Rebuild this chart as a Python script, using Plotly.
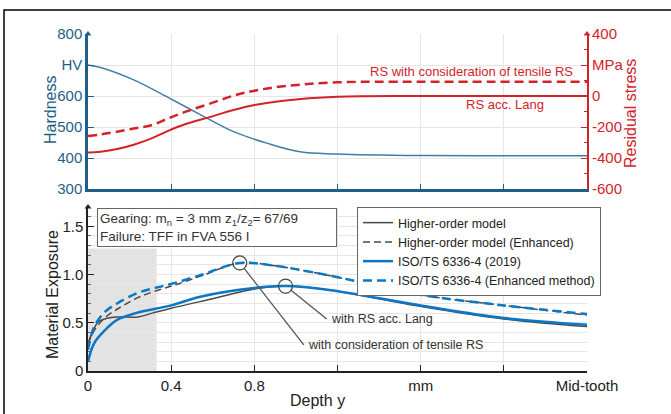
import plotly.graph_objects as go
import math

# ---------------- data ----------------
# top panel
hard_x = [0, 0.06, 0.22, 0.38, 0.54, 0.70, 0.86, 1.02, 1.2, 1.6, 2.0, 2.4]
hard_v = [700, 692, 652, 597, 540, 485, 448, 420, 413, 408, 407, 407]

rs_x = [0, 0.06, 0.14, 0.22, 0.30, 0.38, 0.47, 0.58, 0.70, 0.80, 0.94, 1.2, 1.6, 2.4]
rs_lang = [-365, -359, -342, -314, -277, -228, -181, -138, -90, -58, -30, -5, 0, 0]
rs_tensile = [-258, -248, -230, -210, -190, -148, -101, -52, 2, 34, 63, 88, 92, 92]

# bottom panel
iso_x = [0, 0.03, 0.08, 0.14, 0.23, 0.40, 0.54, 0.80, 0.95, 1.16, 1.6, 2.0, 2.4]
iso_y = [0.10, 0.29, 0.42, 0.53, 0.60, 0.68, 0.77, 0.86, 0.88, 0.84, 0.68, 0.55, 0.48]

ho_x = [0, 0.02, 0.05, 0.08, 0.14, 0.24, 0.31, 0.40, 0.60, 0.80, 0.95, 1.16, 1.6, 2.0, 2.4]
ho_y = [0.28, 0.40, 0.51, 0.54, 0.56, 0.56, 0.60, 0.65, 0.75, 0.85, 0.88, 0.84, 0.67, 0.54, 0.46]

enh_x = [0, 0.03, 0.08, 0.14, 0.24, 0.34, 0.43, 0.55, 0.73, 0.9, 1.16, 1.6, 2.0, 2.4]
iso_enh_y = [0.22, 0.46, 0.61, 0.70, 0.81, 0.87, 0.92, 1.0, 1.12, 1.09, 0.99, 0.79, 0.68, 0.59]
ho_enh_y = [0.28, 0.42, 0.55, 0.64, 0.76, 0.84, 0.90, 0.99, 1.12, 1.09, 0.99, 0.79, 0.68, 0.58]

# callouts: circle position and text position
callout_labels = ["with consideration of tensile RS", "with RS acc. Lang"]
callout_cx = [0.73, 0.95]
callout_cy = [1.12, 0.88]
callout_tx = [1.05, 1.16]
callout_ty = [0.27, 0.54]

shade_x = [0, 0.33]
shade_y = [0, 1.27]

x_range = [0, 2.4]
hv_range = [300, 800]
rs_range = [-600, 400]
me_range = [0, 1.7]

x_ticks = [0, 0.4, 0.8, 1.6, 2.4]
x_ticktext = ["0", "0.4", "0.8", "mm", "Mid-tooth"]
x_minor = [1.2, 2.0]
hv_ticks = [300, 400, 500, 600, 700, 800]
hv_ticktext = ["300", "400", "500", "600", "HV", "800"]
rs_ticks = [-600, -400, -200, 0, 200, 400]
rs_ticktext = ["-600", "-400", "-200", "0", "MPa", "400"]
rs_minor = [-500, -300, -100, 100, 300]
me_ticks = [0, 0.5, 1.0, 1.5]
me_ticktext = ["0", "0.5", "1.0", "1.5"]

# ---------------- style ----------------
W, H = 671, 414
FONT = "Liberation Sans, Arial, sans-serif"
TEAL = "#1f5f86"
HARD = "#3f7ea6"
RED = "#d2232a"
BLUE = "#0b77c5"
BLACK = "#4a4a4a"
GRID = "#e6e6e6"

L, R = 88, 587
xd = [L / W, R / W]
top_dom = [1 - 189 / H, 1 - 34 / H]
bot_dom = [1 - 371 / H, 1 - 207 / H]

fig = go.Figure()

# top panel traces
fig.add_trace(go.Scatter(x=hard_x, y=hard_v, mode="lines", line=dict(color=HARD, width=1.5, shape="spline"),
                         xaxis="x", yaxis="y", showlegend=False))
fig.add_trace(go.Scatter(x=rs_x, y=rs_tensile, mode="lines", line=dict(color=RED, width=2.5, dash="9px,5px", shape="spline"),
                         xaxis="x", yaxis="y2", showlegend=False))
fig.add_trace(go.Scatter(x=rs_x, y=rs_lang, mode="lines", line=dict(color=RED, width=2, shape="spline"),
                         xaxis="x", yaxis="y2", showlegend=False))

# bottom panel traces
fig.add_trace(go.Scatter(x=ho_x, y=ho_y, mode="lines", name="Higher-order model",
                         line=dict(color=BLACK, width=1.5, shape="spline"), xaxis="x2", yaxis="y3"))
fig.add_trace(go.Scatter(x=enh_x, y=ho_enh_y, mode="lines", name="Higher-order model (Enhanced)",
                         line=dict(color=BLACK, width=1.5, dash="7px,4px", shape="spline"), xaxis="x2", yaxis="y3"))
fig.add_trace(go.Scatter(x=iso_x, y=iso_y, mode="lines", name="ISO/TS 6336-4 (2019)",
                         line=dict(color=BLUE, width=2.5, shape="spline"), xaxis="x2", yaxis="y3"))
fig.add_trace(go.Scatter(x=enh_x, y=iso_enh_y, mode="lines", name="ISO/TS 6336-4 (Enhanced method)",
                         line=dict(color=BLUE, width=2.5, dash="9px,5px", shape="spline"), xaxis="x2", yaxis="y3"))

# callout circles
fig.add_trace(go.Scatter(x=callout_cx, y=callout_cy, mode="markers",
                         marker=dict(symbol="circle-open", size=14, color="#444444", line=dict(width=1.2)),
                         xaxis="x2", yaxis="y3", showlegend=False, hoverinfo="skip"))

# axis end arrowheads
fig.add_trace(go.Scatter(x=[x_range[0]], y=[hv_range[1]], mode="markers", cliponaxis=False,
                         marker=dict(symbol="triangle-up", size=6, color=TEAL), xaxis="x", yaxis="y",
                         showlegend=False, hoverinfo="skip"))
fig.add_trace(go.Scatter(x=[x_range[1]], y=[rs_range[1]], mode="markers", cliponaxis=False,
                         marker=dict(symbol="triangle-up", size=6, color=RED), xaxis="x", yaxis="y2",
                         showlegend=False, hoverinfo="skip"))
fig.add_trace(go.Scatter(x=[x_range[0]], y=[me_range[1]], mode="markers", cliponaxis=False,
                         marker=dict(symbol="triangle-up", size=6, color="#222222"), xaxis="x2", yaxis="y3",
                         showlegend=False, hoverinfo="skip"))

# pixel scales for callout line endpoints
x_pp = (R - L) / (x_range[1] - x_range[0])
y_pp = (371 - 207) / (me_range[1] - me_range[0])
shapes = []
annotations = []
r_px = 7
for lab, cx, cy, tx, ty in zip(callout_labels, callout_cx, callout_cy, callout_tx, callout_ty):
    dxp = (tx - cx) * x_pp
    dyp = (ty - cy) * y_pp
    d = math.hypot(dxp, dyp)
    sx = cx + dxp / d * r_px / x_pp
    sy = cy + dyp / d * r_px / y_pp
    ex = tx - 2.5 / x_pp
    shapes.append(dict(type="line", xref="x2", yref="y3", x0=sx, y0=sy, x1=ex, y1=ty,
                       line=dict(color="#555555", width=1.3)))
    annotations.append(dict(text=lab, xref="x2", yref="y3", x=tx, y=ty, xanchor="left", yanchor="middle",
                            showarrow=False, font=dict(size=12.5, color="#333333", family=FONT)))

# shaded region
shapes.append(dict(type="rect", xref="x2", yref="y3", x0=shade_x[0], x1=shade_x[1], y0=shade_y[0], y1=shade_y[1],
                   fillcolor="#e3e3e3", line=dict(width=0), layer="below"))
# outer frame
shapes.append(dict(type="rect", xref="paper", yref="paper", x0=4 / W, x1=1.1, y0=-0.1, y1=1 - 10 / H,
                   line=dict(color="black", width=1.5), fillcolor="rgba(0,0,0,0)"))

# text labels top panel
annotations.append(dict(text="RS with consideration of tensile RS", xref="x", yref="y2", x=2.342, y=161,
                        xanchor="right", yanchor="middle", showarrow=False, font=dict(size=13, color=RED, family=FONT)))
annotations.append(dict(text="RS acc. Lang", xref="x", yref="y2", x=2.006, y=-58,
                        xanchor="center", yanchor="middle", showarrow=False, font=dict(size=13, color=RED, family=FONT)))

# axis titles
annotations.append(dict(text="Hardness", xref="paper", yref="paper", x=50 / W, y=1 - 110 / H, textangle=-90,
                        xanchor="center", yanchor="middle",
                        showarrow=False, font=dict(size=16, color=TEAL, family=FONT)))
annotations.append(dict(text="Residual stress", xref="paper", yref="paper", x=630 / W, y=1 - 114 / H, textangle=-90,
                        xanchor="center", yanchor="middle",
                        showarrow=False, font=dict(size=16, color=RED, family=FONT)))
annotations.append(dict(text="Material Exposure", xref="paper", yref="paper", x=52 / W, y=1 - 295 / H, textangle=-90,
                        xanchor="center", yanchor="middle",
                        showarrow=False, font=dict(size=16, color="#222222", family=FONT)))
annotations.append(dict(text="Depth y", xref="paper", yref="paper", x=317 / W, y=1 - 400 / H,
                        xanchor="center", yanchor="middle",
                        showarrow=False, font=dict(size=16, color="#222222", family=FONT)))

# info box
annotations.append(dict(text="Gearing: m<sub>n</sub> = 3 mm z<sub>1</sub>/z<sub>2</sub>= 67/69<br>Failure: TFF in FVA 556 I",
                        xref="paper", yref="paper", x=97 / W, y=1 - 208 / H, xanchor="left", yanchor="top",
                        align="left", showarrow=False, bordercolor="#666666", borderwidth=1, borderpad=2,
                        bgcolor="white", width=234, font=dict(size=13.5, color="#333333", family=FONT)))

fig.update_layout(
    width=W, height=H, margin=dict(l=0, r=0, t=0, b=0, pad=0, autoexpand=False),
    paper_bgcolor="white", plot_bgcolor="white",
    font=dict(family=FONT),
    xaxis=dict(domain=xd, anchor="y", range=x_range, tickvals=x_ticks, showticklabels=False, automargin=False,
               ticks="inside", ticklen=5, tickcolor=TEAL, showline=True, linecolor=TEAL, linewidth=2.5,
               showgrid=True, gridcolor=GRID, zeroline=False,
               minor=dict(tickvals=x_minor, ticks="inside", ticklen=5, tickcolor=TEAL, showgrid=True, gridcolor=GRID)),
    xaxis3=dict(overlaying="x", anchor="y", side="top", range=x_range, tickvals=x_ticks + x_minor,
                showticklabels=False, ticks="inside", ticklen=5, tickcolor="#999999", showline=False,
                showgrid=False, zeroline=False, domain=xd, automargin=False),
    yaxis=dict(domain=top_dom, anchor="x", range=hv_range, tickvals=hv_ticks, ticktext=hv_ticktext,
               ticks="inside", ticklen=6, tickcolor=TEAL, showline=True, linecolor=TEAL, linewidth=2.5,
               tickfont=dict(size=15, family=FONT, color=TEAL), showgrid=True, gridcolor=GRID, zeroline=False,
               automargin=False),
    yaxis2=dict(overlaying="y", anchor="x", side="right", range=rs_range, tickvals=rs_ticks,
                ticktext=rs_ticktext, ticks="inside", ticklen=6, tickcolor=RED, showline=True, linecolor=RED,
                linewidth=2, tickfont=dict(size=15, family=FONT, color=RED), showgrid=False, zeroline=False,
                automargin=False,
                minor=dict(tickvals=rs_minor, ticks="inside", ticklen=3, tickcolor=RED)),
    xaxis2=dict(domain=xd, anchor="y3", range=x_range, tickvals=x_ticks, ticktext=x_ticktext,
                ticks="inside", ticklen=6, tickcolor="#222222", showline=True, linecolor="#222222", linewidth=1.5,
                tickfont=dict(size=15, family=FONT, color="#222222"), showgrid=True, gridcolor=GRID, zeroline=False,
                automargin=False,
                minor=dict(tickvals=x_minor, ticks="inside", ticklen=6, tickcolor="#222222", showgrid=True,
                           gridcolor=GRID)),
    yaxis3=dict(domain=bot_dom, anchor="x2", range=me_range, tickvals=me_ticks, ticktext=me_ticktext,
                ticks="inside", ticklen=6, tickcolor="#222222", showline=True, linecolor="#222222", linewidth=1.5,
                tickfont=dict(size=15, family=FONT, color="#222222"), showgrid=True, gridcolor=GRID, zeroline=False,
                automargin=False,
                minor=dict(dtick=0.1, ticks="inside", ticklen=3, tickcolor="#666666", showgrid=True, gridcolor=GRID)),
    yaxis4=dict(overlaying="y3", anchor="x2", side="right", range=me_range, dtick=0.1, showticklabels=False,
                ticks="inside", ticklen=4, tickcolor="#777777", showline=False, showgrid=False, zeroline=False,
                automargin=False),
    legend=dict(x=357 / W, y=1 - 207 / H, xanchor="left", yanchor="top", bordercolor="#666666", borderwidth=1,
                bgcolor="white", font=dict(size=12.5, color="#222222", family=FONT), tracegroupgap=0,
                itemwidth=30),
    shapes=shapes, annotations=annotations,
)

fig.write_html("out.html", config={"displayModeBar": False},
               post_script="document.body.style.margin='0px';document.body.style.overflow='hidden';")
